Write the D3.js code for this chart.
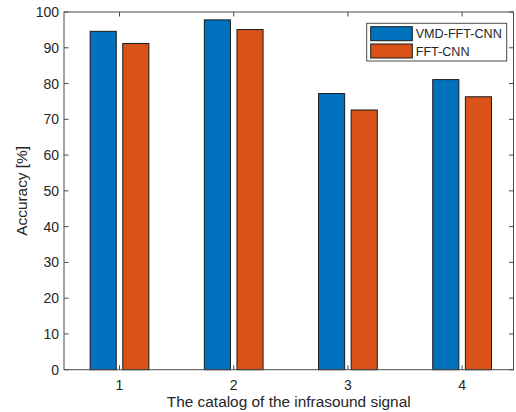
<!DOCTYPE html>
<html>
<head>
<meta charset="utf-8">
<script src="https://cdn.jsdelivr.net/npm/d3@7"></script>
<style>
  body { margin: 0; background: #fff; }
  text { font-family: "Liberation Sans", Arial, Helvetica, sans-serif; fill: #262626; }
</style>
</head>
<body>
<div id="chart"></div>
<script>
const categories = [1, 2, 3, 4]
const seriesNames = ['VMD-FFT-CNN', 'FFT-CNN']
const vmdFftCnn = [94.6, 97.8, 77.2, 81.1]
const fftCnn = [91.2, 95.1, 72.6, 76.3]
const yTicks = [0, 10, 20, 30, 40, 50, 60, 70, 80, 90, 100]
const colors = ['#0072BD', '#D95319']

const width = 516, height = 412
const axL = 64, axR = 513.5, axT = 12, axB = 369.7
const axisColor = '#4a4a4a'
const tickLen = 4.5

var svg = d3.select('#chart').append('svg')
	.attr('width', width)
	.attr('height', height)

// x scale in category units, like matlab's bar axes
var x = d3.scaleLinear()
	.domain([0.514, 4.45])
	.range([axL, axR])
var y = d3.scaleLinear()
	.domain([0, 100])
	.range([axB, axT])

const barW = 0.8 / 3.5
const offsets = [-1 / 7, 1 / 7]
const series = [vmdFftCnn, fftCnn]

// bars
series.forEach((vals, s) => {
	svg.append('g').selectAll('rect')
		.data(vals)
		.enter()
		.append('rect')
		.attr('x', (d, i) => x(categories[i] + offsets[s] - barW / 2))
		.attr('y', d => y(d))
		.attr('width', x(barW) - x(0))
		.attr('height', d => y(0) - y(d))
		.style('fill', colors[s])
		.style('stroke', '#1a1a1a')
		.style('stroke-width', 1)
})

// box around the axes
svg.append('rect')
	.attr('x', axL)
	.attr('y', axT)
	.attr('width', axR - axL)
	.attr('height', axB - axT)
	.style('fill', 'none')
	.style('stroke', axisColor)
	.style('stroke-width', 1)

// y ticks, inward on both sides
var yt = svg.append('g')
yt.selectAll('.tl').data(yTicks).enter().append('line')
	.attr('x1', axL).attr('x2', axL + tickLen)
	.attr('y1', d => y(d)).attr('y2', d => y(d))
	.style('stroke', axisColor)
yt.selectAll('.tr').data(yTicks).enter().append('line')
	.attr('x1', axR).attr('x2', axR - tickLen)
	.attr('y1', d => y(d)).attr('y2', d => y(d))
	.style('stroke', axisColor)
yt.selectAll('text').data(yTicks).enter().append('text')
	.attr('x', axL - 5)
	.attr('y', d => y(d))
	.attr('dy', '0.36em')
	.attr('text-anchor', 'end')
	.style('font-size', '14px')
	.text(d => d)

// x ticks, top and bottom
var xt = svg.append('g')
xt.selectAll('.tb').data(categories).enter().append('line')
	.attr('x1', d => x(d)).attr('x2', d => x(d))
	.attr('y1', axB).attr('y2', axB - tickLen)
	.style('stroke', axisColor)
xt.selectAll('.tt').data(categories).enter().append('line')
	.attr('x1', d => x(d)).attr('x2', d => x(d))
	.attr('y1', axT).attr('y2', axT + tickLen)
	.style('stroke', axisColor)
xt.selectAll('text').data(categories).enter().append('text')
	.attr('x', d => x(d))
	.attr('y', axB + 20.5)
	.attr('text-anchor', 'middle')
	.style('font-size', '14px')
	.text(d => d)

// axis labels
svg.append('text')
	.attr('x', (axL + axR) / 2)
	.attr('y', 406.5)
	.attr('text-anchor', 'middle')
	.style('font-size', '15.4px')
	.text('The catalog of the infrasound signal')
svg.append('text')
	.attr('transform', 'translate(27,' + (axT + axB) / 2 + ') rotate(-90)')
	.attr('text-anchor', 'middle')
	.style('font-size', '15.4px')
	.text('Accuracy [%]')

// legend
var lg = svg.append('g').attr('transform', 'translate(366.7, 23.3)')
lg.append('rect')
	.attr('width', 140)
	.attr('height', 37.7)
	.style('fill', '#fff')
	.style('stroke', axisColor)
var items = lg.selectAll('.item').data(seriesNames).enter().append('g')
	.attr('transform', (d, i) => 'translate(4,' + (3.4 + i * 17.3) + ')')
items.append('rect')
	.attr('width', 41.6)
	.attr('height', 14)
	.style('fill', (d, i) => colors[i])
	.style('stroke', '#1a1a1a')
items.append('text')
	.attr('x', 45)
	.attr('y', 7)
	.attr('dy', '0.36em')
	.style('font-size', '12.6px')
	.text(d => d)
</script>
</body>
</html>
